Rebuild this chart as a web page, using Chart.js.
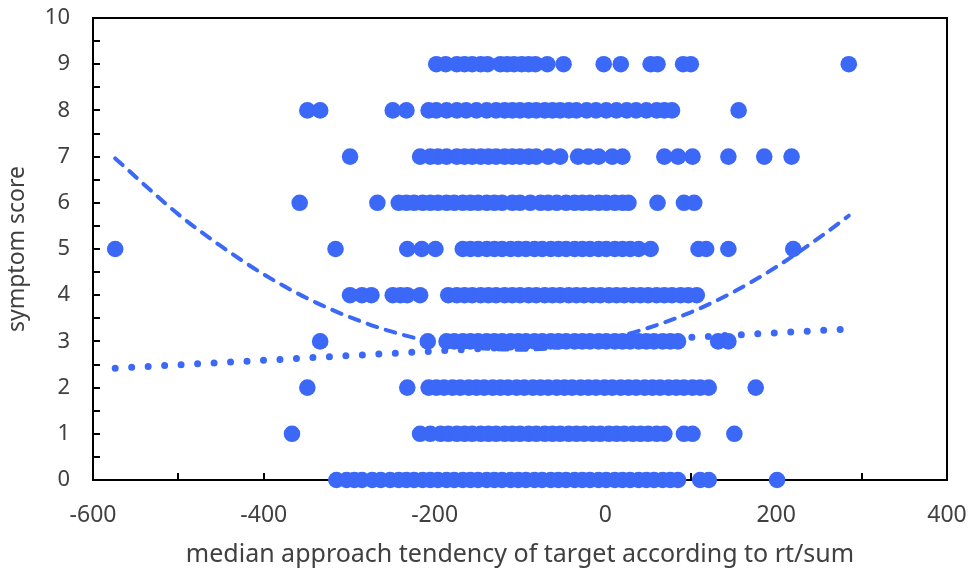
<!DOCTYPE html>
<html lang="en">
<head>
<meta charset="UTF-8">
<title>symptom score scatter</title>
<script src="https://cdn.jsdelivr.net/npm/chart.js"></script>
<style>
  html, body { margin: 0; padding: 0; background: #fff; }
  #wrap { width: 970px; height: 570px; }
</style>
</head>
<body>
<div id="wrap"><canvas id="chart" width="970" height="570"></canvas></div>
<script>
// x values (median approach tendency) for each symptom score row
const row9 = [-198, -187, -174, -165, -156, -146, -138, -123, -115, -107, -98, -90, -82, -68, -49, -2, 18, 53, 61, 91, 100, 285];
const row8 = [-349, -334, -249, -233, -207, -198, -186, -174, -163, -151, -139, -128, -118, -109, -100, -90, -81, -71, -62, -53, -43, -34, -22, -11, 1, 13, 25, 36, 48, 60, 69, 78, 156];
const row7 = [-299, -217, -205, -196, -186, -174, -165, -156, -146, -137, -128, -118, -109, -100, -90, -81, -67, -53, -32, -20, -8, 8, 20, 69, 85, 102, 144, 186, 218];
const row6 = [-358, -267, -242, -233, -224, -214, -205, -196, -186, -177, -167, -158, -149, -139, -130, -121, -109, -100, -88, -76, -67, -57, -46, -36, -27, -18, -8, 1, 11, 20, 27, 61, 92, 104];
const row5 = [-574, -316, -232, -215, -199, -167, -158, -149, -139, -130, -121, -111, -102, -93, -83, -74, -64, -55, -46, -36, -27, -18, -8, 1, 11, 20, 29, 39, 53, 109, 118, 144, 220];
const row4 = [-299, -285, -274, -249, -240, -232, -217, -184, -174, -165, -156, -146, -137, -128, -118, -109, -100, -90, -81, -71, -62, -53, -43, -34, -25, -15, -6, 4, 13, 22, 32, 41, 50, 60, 69, 78, 88, 97, 107];
const row3 = [-334, -208, -186, -177, -167, -158, -149, -139, -130, -121, -111, -102, -93, -83, -74, -64, -55, -46, -36, -27, -18, -8, 1, 11, 20, 29, 39, 48, 57, 67, 76, 85, 132, 144];
const row2 = [-349, -232, -207, -198, -189, -179, -170, -160, -151, -142, -132, -123, -114, -104, -95, -85, -76, -67, -57, -48, -39, -29, -20, -11, -1, 8, 18, 27, 36, 46, 55, 64, 74, 83, 92, 102, 111, 121, 176];
const row1 = [-367, -217, -205, -193, -184, -174, -165, -156, -146, -137, -128, -118, -109, -100, -90, -81, -71, -62, -53, -43, -34, -25, -15, -6, 4, 13, 22, 32, 41, 50, 60, 69, 92, 102, 151];
const row0 = [-315, -303, -294, -285, -273, -263, -252, -242, -233, -224, -214, -205, -196, -186, -177, -167, -158, -149, -139, -130, -121, -111, -102, -93, -83, -74, -64, -55, -46, -36, -27, -18, -8, 1, 11, 20, 29, 39, 48, 57, 67, 76, 85, 111, 121, 201];
const rows = [row0, row1, row2, row3, row4, row5, row6, row7, row8, row9];

// trendlines
const polyX = [-574, -500, -450, -400, -350, -300, -250, -200, -150, -100, -50, 0, 50, 100, 150, 200, 250, 285];
const polyY = [6.96, 5.75, 5.06, 4.45, 3.94, 3.53, 3.21, 2.98, 2.86, 2.82, 2.88, 3.04, 3.29, 3.63, 4.07, 4.61, 5.24, 5.72];
const linX = [-574, 285];
const linY = [2.42, 3.27];

const xTickLabels = [-600, -400, -200, 0, 200, 400];
const yTickLabels = [0, 1, 2, 3, 4, 5, 6, 7, 8, 9, 10];

const blue = '#3b68f6';
const textCol = '#404040';

const points = [];
rows.forEach((xs, score) => xs.forEach(x => points.push({ x: x, y: score })));

// frame + inward tick marks, drawn under the points
const frame = {
  id: 'frame',
  beforeDatasetsDraw(chart) {
    const c = chart.ctx, a = chart.chartArea;
    const xs = chart.scales.x, ys = chart.scales.y;
    c.save();
    c.strokeStyle = '#000';
    c.lineWidth = 2;
    c.strokeRect(a.left, a.top, a.right - a.left, a.bottom - a.top);
    c.beginPath();
    for (let v = -500; v < 400; v += 100) {
      const px = Math.round(xs.getPixelForValue(v));
      c.moveTo(px, a.bottom);
      c.lineTo(px, a.bottom - 7);
    }
    for (let v = 0.5; v < 10; v += 0.5) {
      const py = Math.round(ys.getPixelForValue(v));
      c.moveTo(a.left, py);
      c.lineTo(a.left + 7, py);
    }
    c.stroke();
    c.restore();
  }
};

new Chart(document.getElementById('chart'), {
  type: 'scatter',
  data: {
    datasets: [
      {
        data: points,
        backgroundColor: blue,
        borderWidth: 0,
        pointRadius: 8.3,
        clip: false
      },
      {
        data: polyX.map((x, i) => ({ x: x, y: polyY[i] })),
        showLine: true,
        borderColor: blue,
        borderWidth: 4,
        borderDash: [10, 9],
        borderCapStyle: 'round',
        cubicInterpolationMode: 'monotone',
        pointRadius: 0
      },
      {
        data: linX.map((x, i) => ({ x: x, y: linY[i] })),
        showLine: true,
        borderColor: blue,
        borderWidth: 7,
        borderDash: [0, 16.5],
        borderCapStyle: 'round',
        pointRadius: 0
      }
    ]
  },
  options: {
    responsive: false,
    animation: false,
    layout: { padding: { top: 18, right: 23, left: 0, bottom: 0 } },
    plugins: { legend: { display: false }, tooltip: { enabled: false } },
    scales: {
      x: {
        min: -600, max: 400,
        // tick marks themselves are drawn by the frame plugin; tickLength only spaces the labels
        grid: { display: false, drawTicks: true, tickLength: 22 },
        border: { display: false },
        afterBuildTicks: s => { s.ticks = xTickLabels.map(v => ({ value: v })); },
        ticks: { padding: 0, color: textCol, font: { family: 'Noto Sans', size: 23 }, maxRotation: 0 },
        title: {
          display: true,
          text: 'median approach tendency of target according to rt/sum',
          color: textCol,
          font: { family: 'Noto Sans', size: 25 },
          padding: { top: 0, bottom: 0 }
        },
        afterFit: s => { s.height = 90; }
      },
      y: {
        min: 0, max: 10,
        grid: { display: false, drawTicks: true, tickLength: 23 },
        border: { display: false },
        afterBuildTicks: s => { s.ticks = yTickLabels.map(v => ({ value: v })); },
        ticks: { padding: 0, color: textCol, font: { family: 'Noto Sans', size: 22 } },
        title: {
          display: true,
          text: 'symptom score',
          color: textCol,
          font: { family: 'Noto Sans', size: 23 },
          padding: { top: 4, bottom: 0 }
        },
        afterFit: s => { s.width = 93; }
      }
    }
  },
  plugins: [frame]
});
</script>
</body>
</html>
